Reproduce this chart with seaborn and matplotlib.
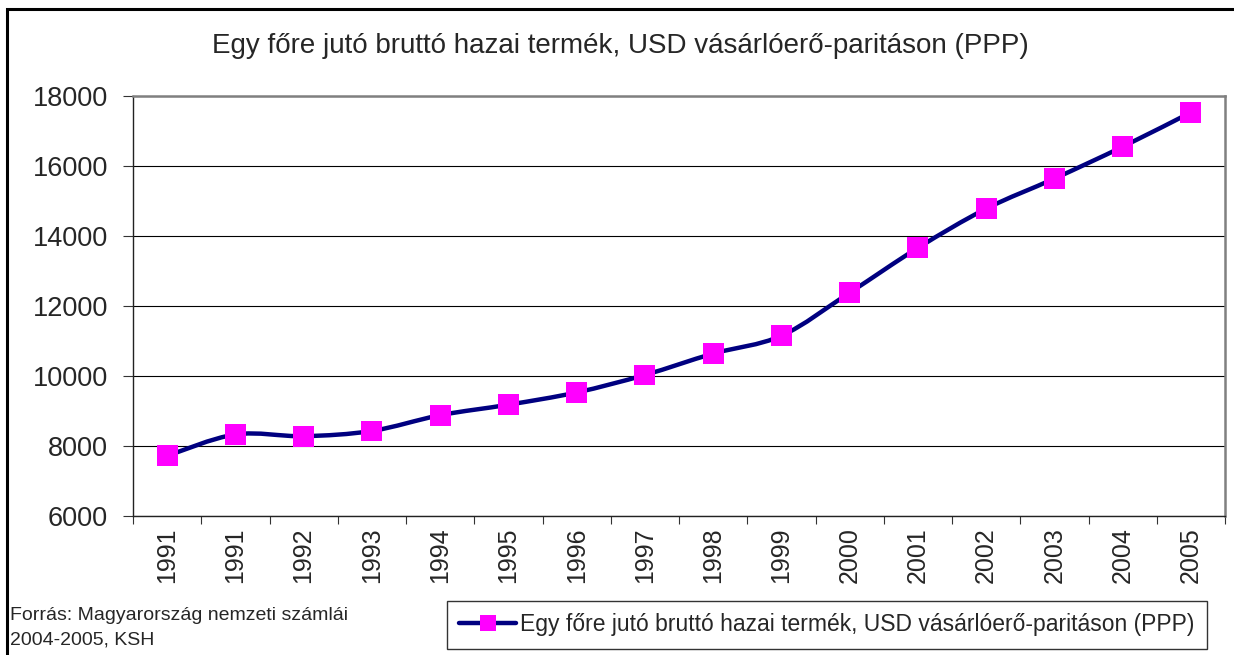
import numpy as np
import pandas as pd
import matplotlib
matplotlib.use("Agg")
import matplotlib.pyplot as plt
from matplotlib.path import Path
from matplotlib.patches import PathPatch, Rectangle
from matplotlib.lines import Line2D
import seaborn as sns

# ---- data ----
years = ["1991", "1991", "1992", "1993", "1994", "1995", "1996", "1997",
         "1998", "1999", "2000", "2001", "2002", "2003", "2004", "2005"]
gdp_ppp = [7720, 8330, 8280, 8430, 8880, 9180, 9530, 10030,
           10640, 11150, 12380, 13660, 14780, 15640, 16550, 17530]
series_name = "Egy főre jutó bruttó hazai termék, USD vásárlóerő-paritáson (PPP)"
title = "Egy főre jutó bruttó hazai termék, USD vásárlóerő-paritáson (PPP)"
source_lines = ["Forrás: Magyarország nemzeti számlái", "2004-2005, KSH"]

df = pd.DataFrame({"pos": np.arange(len(years)), "year": years, "value": gdp_ppp})

sns.set_style("white")
plt.rcParams["font.family"] = ["Liberation Sans", "DejaVu Sans"]

LINE_COLOR = "#000080"
MARKER_COLOR = "#FF00FF"

fig = plt.figure(figsize=(12.34, 6.55), dpi=100)
ax = fig.add_axes([133 / 1234, 1 - 516 / 655, (1225 - 133) / 1234, (516 - 96) / 655])

# smoothed line (Excel style: cubic Bezier through the points, Catmull-Rom tangents)
pts = df[["pos", "value"]].to_numpy(dtype=float)
verts = [pts[0]]
codes = [Path.MOVETO]
for i in range(len(pts) - 1):
    p0 = pts[i - 1] if i > 0 else pts[i]
    p1, p2 = pts[i], pts[i + 1]
    p3 = pts[i + 2] if i + 2 < len(pts) else pts[i + 1]
    verts += [p1 + (p2 - p0) / 6, p2 - (p3 - p1) / 6, p2]
    codes += [Path.CURVE4] * 3
ax.add_patch(PathPatch(Path(verts, codes), facecolor="none", edgecolor=LINE_COLOR,
                       lw=3.2, capstyle="round", joinstyle="round", zorder=3))

# square markers via seaborn
sns.scatterplot(data=df, x="pos", y="value", marker="s", s=225, color=MARKER_COLOR,
                edgecolor="none", linewidth=0, zorder=4, ax=ax, legend=False)

ax.set_xlim(-0.5, len(years) - 0.5)
ax.set_ylim(6000, 18000)
ax.set_yticks(np.arange(6000, 18001, 2000))
ax.yaxis.grid(True, color="black", lw=0.8)
ax.set_axisbelow(True)

# x ticks: marks between categories, labels centred
ax.set_xticks(np.arange(-0.5, len(years), 1.0))
ax.set_xticklabels([])
ax.set_xticks(df["pos"], minor=True)
ax.set_xticklabels(years, minor=True, rotation=90, fontsize=18)
ax.tick_params(axis="x", which="major", direction="out", length=6, width=0.8,
               color="#333333", bottom=True)
ax.tick_params(axis="x", which="minor", length=0, pad=8)
ax.tick_params(axis="y", direction="out", length=7, width=0.8, color="#333333",
               labelsize=19.5, pad=11, left=True)
ax.set_xlabel("")
ax.set_ylabel("")

for side in ["left", "bottom"]:
    ax.spines[side].set_color("#222222")
    ax.spines[side].set_linewidth(1.0)
for side in ["top", "right"]:
    ax.spines[side].set_visible(True)
    ax.spines[side].set_color("#808080")
    ax.spines[side].set_linewidth(1.8)

fig.text(620 / 1234, 1 - 46 / 655, title, ha="center", va="center", fontsize=20)
fig.text(10 / 1234, 1 - 615 / 655, source_lines[0], ha="left", va="center", fontsize=14)
fig.text(10 / 1234, 1 - 640 / 655, source_lines[1], ha="left", va="center", fontsize=14)

handle = Line2D([], [], color=LINE_COLOR, lw=3.2, marker="s", markersize=11,
                markerfacecolor=MARKER_COLOR, markeredgewidth=0)
leg = fig.legend([handle], [series_name], loc="center", fontsize=16.5,
                 bbox_to_anchor=(827 / 1234, 1 - 625 / 655), frameon=True,
                 fancybox=False, edgecolor="black", handlelength=2.45,
                 handletextpad=0.2, borderpad=0.55, borderaxespad=0)
leg.get_frame().set_linewidth(1.0)

# outer chart frame
fig.patches.append(Rectangle((7 / 1234, -0.05), 1.1, 1 - 9 / 655 + 0.05,
                             transform=fig.transFigure, fill=False,
                             edgecolor="black", lw=2.2, zorder=10))

fig.savefig("out.png", dpi=100)
